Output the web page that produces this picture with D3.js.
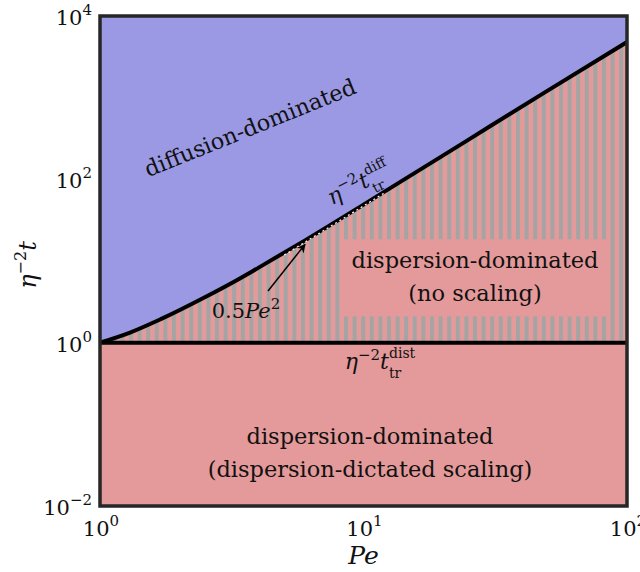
<!DOCTYPE html>
<html>
<head>
<meta charset="utf-8">
<script src="https://cdn.jsdelivr.net/npm/d3@7/dist/d3.min.js"></script>
<style>
  body { margin: 0; background: #fff; }
</style>
</head>
<body>
<svg id="chart" width="640" height="572" font-family="'DejaVu Serif', 'Liberation Serif', serif"></svg>
<script>
// Pe values along the transition curve and the curve values
var pe = [1, 1.3, 1.7, 2.5, 3.2, 4, 6, 10, 20, 30, 50, 100];
var tDiff = [1, 1.33, 1.94, 3.6, 5.5, 8.3, 17.9, 49, 195, 440, 1220, 4800];
var tDist = 1; // horizontal boundary
// 0.5 Pe^2 guide shown dashed on the curve
var peHalf = [5, 7, 9, 12];
var tHalf = [12.5, 24.5, 40.5, 72];
var xTicks = [1, 10, 100];
var yTicks = [1e-2, 1, 1e2, 1e4];
var xDomain = [1, 100];
var yDomain = [1e-2, 1e4];

var m = [16, 13, 66, 100]; // top right bottom left
var W = 640, H = 572;
var svg = d3.select("#chart");
var serif = "'DejaVu Serif', 'Liberation Serif', serif";

var x = d3.scaleLog().domain(xDomain).range([m[3], W - m[1]]);
var y = d3.scaleLog().domain(yDomain).range([H - m[2], m[0]]);

var blue = "#9b99e4", pink = "#e49a9a", gray = "#a4a4a4";

var defs = svg.append("defs");
var pat = defs.append("pattern").attr("id", "stripes")
  .attr("patternUnits", "userSpaceOnUse")
  .attr("width", 8.6).attr("height", 10);
pat.append("rect").attr("width", 8.6).attr("height", 10).attr("fill", pink);
pat.append("rect").attr("width", 4).attr("height", 10).attr("fill", gray);

var clip = defs.append("clipPath").attr("id", "clip");
clip.append("rect").attr("x", x(xDomain[0])).attr("y", y(yDomain[1]))
  .attr("width", x(xDomain[1]) - x(xDomain[0]))
  .attr("height", y(yDomain[0]) - y(yDomain[1]));

var g = svg.append("g").attr("clip-path", "url(#clip)");

var pts = pe.map(function (p, i) { return [p, tDiff[i]]; });

// diffusion region (above curve)
g.append("path")
  .attr("d", d3.area()
    .x(function (d) { return x(d[0]); })
    .y0(y(yDomain[1]))
    .y1(function (d) { return y(d[1]); })
    .curve(d3.curveMonotoneX)(pts))
  .attr("fill", blue);

// lower region
g.append("rect")
  .attr("x", x(xDomain[0])).attr("y", y(tDist))
  .attr("width", x(xDomain[1]) - x(xDomain[0]))
  .attr("height", y(yDomain[0]) - y(tDist))
  .attr("fill", pink);

// hatched region between curve and t=1
g.append("path")
  .attr("d", d3.area()
    .x(function (d) { return x(d[0]); })
    .y0(y(tDist))
    .y1(function (d) { return y(d[1]); })
    .curve(d3.curveMonotoneX)(pts))
  .attr("fill", "url(#stripes)");

// plain box behind the label
var boxPe = [8.4, 85], boxT = [2.1, 18.5];
g.append("rect")
  .attr("x", x(boxPe[0])).attr("y", y(boxT[1]))
  .attr("width", x(boxPe[1]) - x(boxPe[0]))
  .attr("height", y(boxT[0]) - y(boxT[1]))
  .attr("fill", pink);

// boundaries
g.append("path")
  .attr("d", d3.line()
    .x(function (d) { return x(d[0]); })
    .y(function (d) { return y(d[1]); })
    .curve(d3.curveMonotoneX)(pts))
  .attr("fill", "none").attr("stroke", "#000").attr("stroke-width", 4);

g.append("line")
  .attr("x1", x(xDomain[0])).attr("x2", x(xDomain[1]))
  .attr("y1", y(tDist)).attr("y2", y(tDist))
  .attr("stroke", "#000").attr("stroke-width", 4);

g.append("path")
  .attr("d", d3.line()
    .x(function (d) { return x(d); })
    .y(function (d, i) { return y(tHalf[i]) + 2; })(peHalf))
  .attr("fill", "none").attr("stroke", "#fff").attr("stroke-width", 1.2)
  .attr("stroke-dasharray", "2,3");

// frame
svg.append("rect")
  .attr("x", x(xDomain[0])).attr("y", y(yDomain[1]))
  .attr("width", x(xDomain[1]) - x(xDomain[0]))
  .attr("height", y(yDomain[0]) - y(yDomain[1]))
  .attr("fill", "none").attr("stroke", "#262626").attr("stroke-width", 3.5);

function txt(sel) {
  return sel.append("text").attr("font-family", serif).attr("fill", "#111");
}

// tick labels
function pow10(sel, v) {
  var e = Math.round(Math.log10(v));
  sel.append("tspan").text("10");
  sel.append("tspan").attr("dy", -10).attr("font-size", 15)
    .text(e < 0 ? "\u2212" + (-e) : e);
}
xTicks.forEach(function (v) {
  var t = txt(svg).attr("x", x(v) + 1).attr("y", H - m[2] + 30)
    .attr("text-anchor", "middle").attr("font-size", 21);
  pow10(t, v);
});
yTicks.forEach(function (v) {
  var t = txt(svg).attr("x", m[3] - 8).attr("y", y(v) + 9)
    .attr("text-anchor", "end").attr("font-size", 21);
  pow10(t, v);
});

// axis titles
txt(svg).attr("x", x(10)).attr("y", 564)
  .attr("text-anchor", "middle").attr("font-size", 25)
  .attr("font-style", "italic").text("Pe");

var yl = txt(svg).attr("transform", "translate(36,265) rotate(-90)")
  .attr("text-anchor", "middle").attr("font-size", 24);
yl.append("tspan").attr("font-style", "italic").text("\u03b7");
yl.append("tspan").attr("dy", -10).attr("font-size", 16).text("\u22122");
yl.append("tspan").attr("dy", 10).attr("font-style", "italic").text("t");

// region labels, font scaled so the first line matches the picture width
function label(tx, ty, lines, width, rot) {
  var probe = txt(svg).attr("font-size", 24).text(lines[0]);
  var fs = 24 * width / probe.node().getComputedTextLength();
  probe.remove();
  var t = txt(svg)
    .attr("transform", "translate(" + tx + "," + ty + ") rotate(" + (rot || 0) + ")")
    .attr("text-anchor", "middle").attr("font-size", fs.toFixed(2));
  lines.forEach(function (s, i) {
    t.append("tspan").attr("x", 0).attr("y", i * 33).text(s);
  });
}
label(253, 135, ["diffusion-dominated"], 226, -22);
label(475, 268, ["dispersion-dominated", "(no scaling)"], 247);
label(370, 444, ["dispersion-dominated", "(dispersion-dictated scaling)"], 247);

// eta^-2 t_tr labels: main part, then superscript and subscript as own texts
function etaT(tx, ty, rot, sup) {
  var gg = svg.append("g")
    .attr("transform", "translate(" + tx + "," + ty + ") rotate(" + rot + ")");
  var t = txt(gg).attr("font-size", 22);
  t.append("tspan").attr("font-style", "italic").text("\u03b7");
  t.append("tspan").attr("dy", -9).attr("font-size", 15).text("\u22122");
  t.append("tspan").attr("dy", 9).attr("font-style", "italic").text("t");
  var w = t.node().getComputedTextLength();
  var s1 = txt(gg).attr("x", w).attr("y", -11).attr("font-size", 14).text(sup);
  var s2 = txt(gg).attr("x", w).attr("y", 9).attr("font-size", 14).text("tr");
  var total = w + s1.node().getComputedTextLength();
  gg.selectAll("text").attr("transform", "translate(" + (-total / 2) + ",0)");
}
etaT(362, 190, -27, "diff");
etaT(380, 369, 0, "dist");

// 0.5 Pe^2 annotation
var ann = txt(svg).attr("x", 246).attr("y", 318)
  .attr("text-anchor", "middle").attr("font-size", 21);
ann.append("tspan").text("0.5");
ann.append("tspan").attr("font-style", "italic").text("Pe");
ann.append("tspan").attr("dy", -9).attr("font-size", 15).text("2");

defs.append("marker").attr("id", "arr").attr("viewBox", "0 0 10 10")
  .attr("refX", 9).attr("refY", 5).attr("markerWidth", 6).attr("markerHeight", 6)
  .attr("orient", "auto")
  .append("path").attr("d", "M0,0 L10,5 L0,10 L3,5 Z").attr("fill", "#000");
svg.append("line")
  .attr("x1", 268).attr("y1", 291)
  .attr("x2", x(6)).attr("y2", y(17.9) + 4)
  .attr("stroke", "#000").attr("stroke-width", 1.5)
  .attr("marker-end", "url(#arr)");
</script>
</body>
</html>
